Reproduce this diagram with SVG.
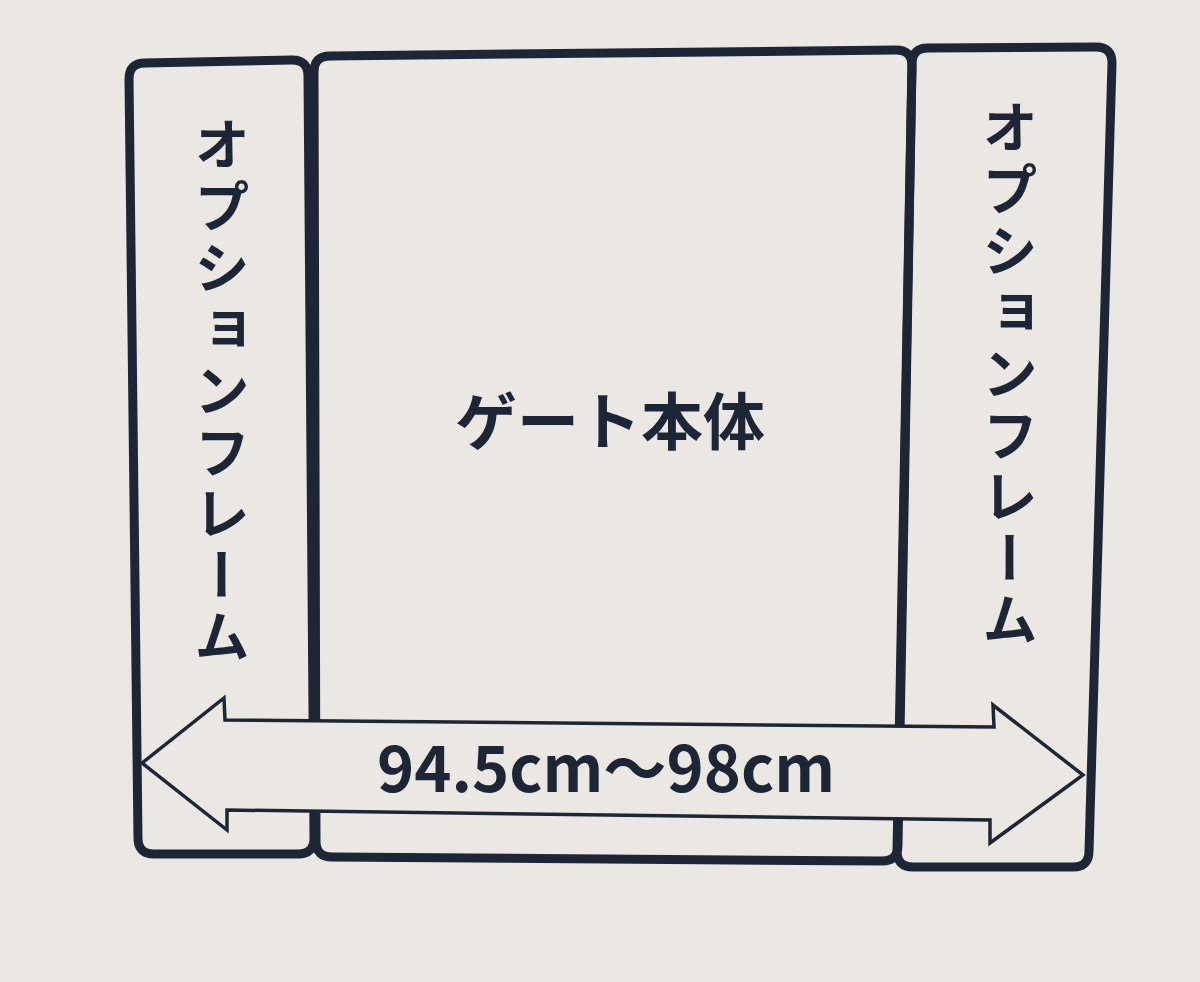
<svg xmlns="http://www.w3.org/2000/svg" width="1200" height="982" viewBox="0 0 1200 982">
<defs>
<style>
.frame{fill:none;stroke:#1d2637;stroke-width:9;stroke-linejoin:round}
.arrow{fill:#ebe7e2;stroke:#1d2637;stroke-width:3.5;stroke-linejoin:miter}
.jp{font-family:"Noto Sans CJK JP","Noto Sans CJK SC",sans-serif;font-weight:700;fill:#1d2637}
.vert{writing-mode:vertical-rl;font-size:56px;letter-spacing:5.5px}
</style>
</defs>
<rect width="1200" height="982" fill="#ebe7e2"/>
<g id="left-frame">
<path class="frame" d="M129,79 Q129,63 145,63 L292,60 Q308,60 308,76 L314,838 Q314,854 298,854 L154,854 Q138,854 138,838 Z"/>
<text class="jp vert" x="222" y="116">オプションフレーム</text>
</g>
<g id="gate-body">
<path class="frame" d="M314,72 Q314,56 330,56 L896,50 Q912,50 912,66 L898,845 Q898,861 882,861 L332,857 Q316,857 316,841 Z"/>
<text class="jp" x="610" y="445" font-size="62" text-anchor="middle">ゲート本体</text>
</g>
<g id="right-frame">
<path class="frame" d="M912,64 Q912,48 928,48 L1096,47 Q1112,47 1112,63 L1089,851 Q1089,867 1073,867 L913,867 Q897,867 897,851 Z"/>
<text class="jp vert" x="1010" y="99">オプションフレーム</text>
</g>
<g id="connectors">
<polygon class="arrow" points="142,763 224,698 225,720 994,727 993,705 1083,775 990,843 990,820 227,810 227,830"/>
<text class="jp" x="377" y="792" font-size="64" font-weight="500" textLength="458" lengthAdjust="spacingAndGlyphs">94.5cm〜98cm</text>
</g>
</svg>
